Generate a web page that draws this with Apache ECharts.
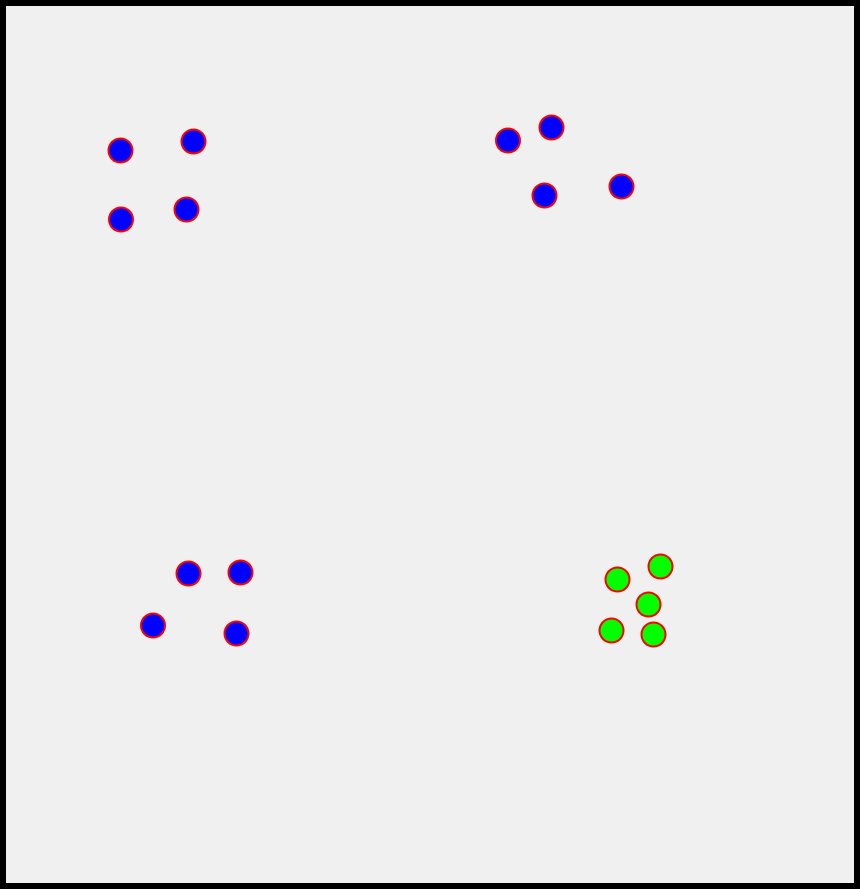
<!DOCTYPE html>
<html>
<head>
<meta charset="utf-8">
<script src="https://cdn.jsdelivr.net/npm/echarts@6/dist/echarts.min.js"></script>
<style>
html,body{margin:0;padding:0;background:#000;}
#chart{width:860px;height:889px;}
</style>
</head>
<body>
<div id="chart"></div>
<script>
// Point positions (x, y), in the chart's own units (y grows downward)
const blueX = [120.5, 193.5, 121, 186.5, 508, 551.5, 544.5, 621.5, 188.5, 240.5, 153, 236.5];
const blueY = [150, 141, 219, 209, 140, 127, 195, 186, 573, 572, 625, 633];
const greenX = [617.5, 660.5, 648.5, 611.5, 653.5];
const greenY = [579, 566, 604, 630, 634];

const zip = (xs, ys) => xs.map((x, i) => [x, ys[i]]);

const chart = echarts.init(document.getElementById('chart'));
chart.setOption({
  animation: false,
  backgroundColor: '#000000',
  grid: {
    left: 6, right: 6, top: 6, bottom: 6,
    show: true, backgroundColor: '#f0f0f0', borderWidth: 0
  },
  xAxis: { type: 'value', min: 6, max: 854, show: false },
  yAxis: { type: 'value', min: 5.5, max: 882.5, inverse: true, show: false },
  series: [
    {
      type: 'scatter',
      data: zip(blueX, blueY),
      symbolSize: 24,
      itemStyle: { color: '#0000ff', borderColor: '#ff0000', borderWidth: 2, opacity: 1 }
    },
    {
      type: 'scatter',
      data: zip(greenX, greenY),
      symbolSize: 24,
      itemStyle: { color: '#00ff00', borderColor: '#ff0000', borderWidth: 2, opacity: 1 }
    }
  ]
});
</script>
</body>
</html>
